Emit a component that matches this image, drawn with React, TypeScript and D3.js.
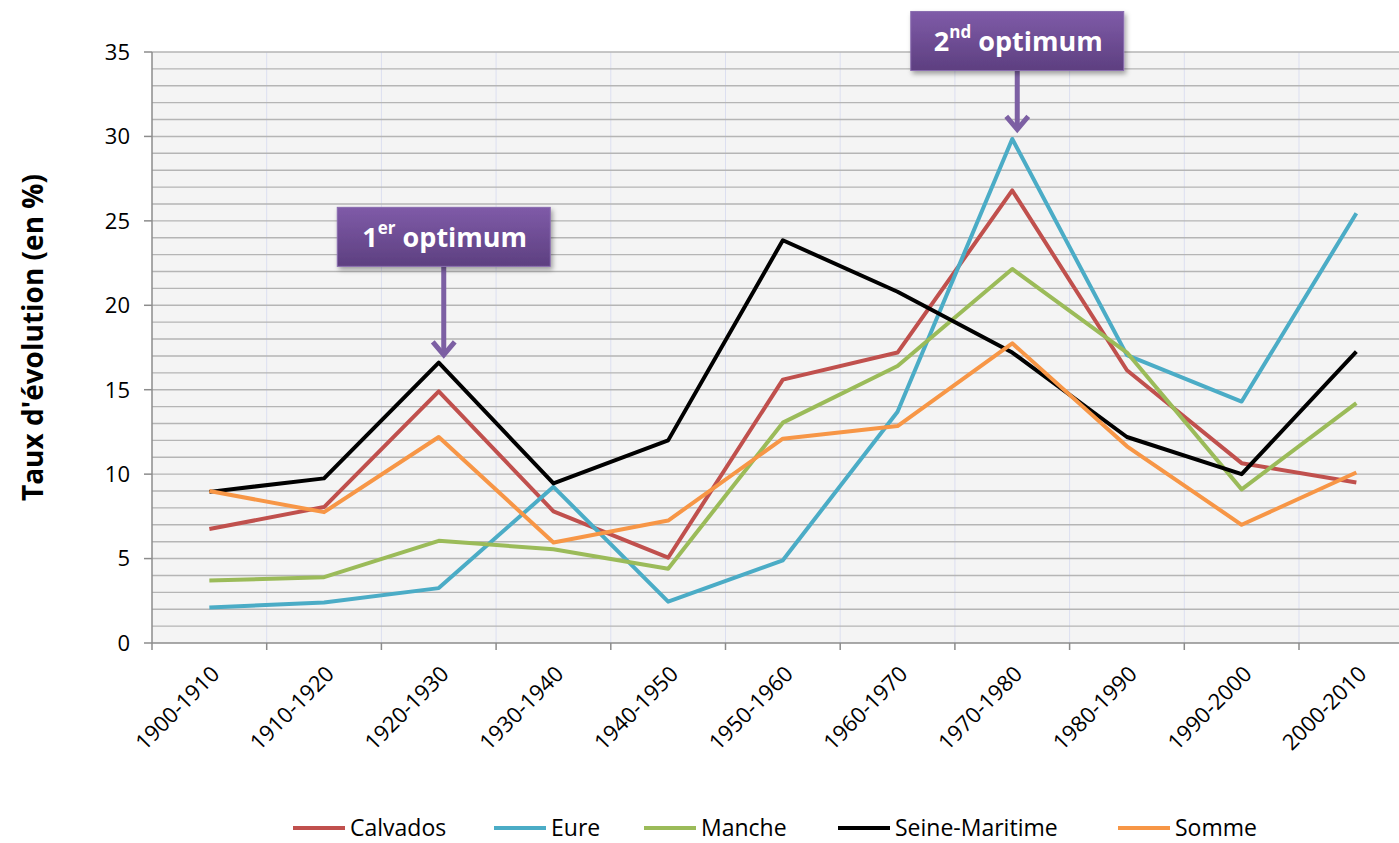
import React from 'react';
import * as d3 from 'd3';

const WIDTH = 1399;
const HEIGHT = 843;
// plot box
const LEFT = 152;
const TOP = 52;
const BOTTOM = 643;
const BAND = 114.7;

const categories = [
  '1900-1910', '1910-1920', '1920-1930', '1930-1940', '1940-1950', '1950-1960',
  '1960-1970', '1970-1980', '1980-1990', '1990-2000', '2000-2010',
];

const calvados = [6.75, 8.05, 14.9, 7.8, 5.05, 15.6, 17.2, 26.8, 16.15, 10.65, 9.5];
const eure = [2.1, 2.4, 3.25, 9.25, 2.45, 4.9, 13.7, 29.85, 17.05, 14.3, 25.45];
const manche = [3.7, 3.9, 6.05, 5.55, 4.4, 13.05, 16.4, 22.15, 17.2, 9.1, 14.2];
const seineMaritime = [8.95, 9.75, 16.6, 9.45, 12.0, 23.85, 20.8, 17.2, 12.2, 10.0, 17.25];
const somme = [9.0, 7.75, 12.2, 5.95, 7.25, 12.1, 12.85, 17.75, 11.65, 7.0, 10.1];

const yTicks = [0, 5, 10, 15, 20, 25, 30, 35];

const series = [
  { name: 'Calvados', values: calvados, color: '#c0504d' },
  { name: 'Eure', values: eure, color: '#4bacc6' },
  { name: 'Manche', values: manche, color: '#9bbb59' },
  { name: 'Seine-Maritime', values: seineMaritime, color: '#000000' },
  { name: 'Somme', values: somme, color: '#f79646' },
];

// annotation boxes: which category they point at, box top (in data units)
const annotations = [
  { num: '1', sup: 'er', category: '1920-1930', boxTop: 25.8, tip: 16.6 + 0.35 },
  { num: '2', sup: 'nd', category: '1970-1980', boxTop: 37.4, tip: 29.85 + 0.45 },
];

const FONT = '"Open Sans", "Noto Sans", sans-serif';

export default function App() {
  const x = d3.scaleBand().domain(categories).range([LEFT, LEFT + BAND * categories.length]).padding(0);
  const y = d3.scaleLinear().domain([0, 35]).range([BOTTOM, TOP]);
  const cx = (c: string) => (x(c) as number) + x.bandwidth() / 2;
  const right = LEFT + BAND * categories.length;

  const line = d3.line<number>()
    .x((_, i) => cx(categories[i]))
    .y((d) => y(d));

  const minor = d3.range(1, 36);

  const legendItems = [
    { x: 293 }, { x: 494 }, { x: 644 }, { x: 838 }, { x: 1118 },
  ];

  return (
    <svg width={WIDTH} height={HEIGHT} style={{ position: 'absolute', left: 0, top: 0, display: 'block', background: '#fff' }}
      xmlns="http://www.w3.org/2000/svg">
      <defs>
        <linearGradient id="boxGrad" x1="0" y1="0" x2="0" y2="1">
          <stop offset="0%" stopColor="#7f5ba8" />
          <stop offset="100%" stopColor="#5d3f80" />
        </linearGradient>
        <filter id="shadow" x="-20%" y="-20%" width="140%" height="160%">
          <feDropShadow dx="2" dy="3" stdDeviation="2.5" floodColor="#000" floodOpacity="0.35" />
        </filter>
      </defs>

      {/* plot area */}
      <rect x={LEFT} y={TOP} width={right - LEFT} height={BOTTOM - TOP} fill="#f4f4f4" />

      {/* vertical grid */}
      {categories.map((c, i) => i > 0 && (
        <line key={`vg-${c}`} x1={x(c)} x2={x(c)} y1={TOP} y2={BOTTOM} stroke="#dcdff0" strokeWidth={1} />
      ))}

      {/* horizontal grid every unit */}
      {minor.map((v) => (
        <line key={`hg-${v}`} x1={LEFT} x2={right} y1={y(v)} y2={y(v)} stroke="#b5b5b5" strokeWidth={1.4} />
      ))}

      {/* axes */}
      <line x1={LEFT} x2={LEFT} y1={TOP} y2={BOTTOM} stroke="#8c8c8c" strokeWidth={1.5} />
      <line x1={LEFT} x2={right} y1={BOTTOM} y2={BOTTOM} stroke="#8c8c8c" strokeWidth={1.5} />
      {yTicks.map((t) => (
        <g key={`yt-${t}`}>
          <line x1={LEFT - 8} x2={LEFT} y1={y(t)} y2={y(t)} stroke="#8c8c8c" strokeWidth={1.5} />
          <text x={LEFT - 22} y={y(t)} dy="0.36em" textAnchor="end" fontFamily={FONT} fontSize={22} fill="#000">{t}</text>
        </g>
      ))}
      {categories.map((c) => (
        <line key={`xt-${c}`} x1={x(c)} x2={x(c)} y1={BOTTOM} y2={BOTTOM + 7} stroke="#8c8c8c" strokeWidth={1.5} />
      ))}
      {categories.map((c) => (
        <text key={`xl-${c}`} transform={`translate(${cx(c) + 6},${BOTTOM + 27}) rotate(-45)`}
          textAnchor="end" dy="0.35em" fontFamily={FONT} fontSize={22} fill="#000">{c}</text>
      ))}

      {/* y title */}
      <text transform={`translate(33,${(TOP + BOTTOM) / 2 - 10}) rotate(-90)`} textAnchor="middle" dy="0.35em"
        fontFamily={FONT} fontWeight="bold" fontSize={28} fill="#000">Taux d'évolution (en %)</text>

      {/* series */}
      {series.map((s) => (
        <path key={s.name} d={line(s.values) || ''} fill="none" stroke={s.color} strokeWidth={4}
          strokeLinejoin="round" strokeLinecap="butt" />
      ))}

      {/* annotations */}
      {annotations.map((a) => {
        const ax = cx(a.category) + 5;
        const top = y(a.boxTop);
        const bw = 213;
        const bh = 59;
        const tipY = y(a.tip);
        return (
          <g key={a.num}>
            <line x1={ax} x2={ax} y1={top + bh} y2={tipY - 2} stroke="#7c5fa3" strokeWidth={5} />
            <path d={`M${ax - 11},${tipY - 15} L${ax},${tipY - 2} L${ax + 11},${tipY - 15}`} fill="none"
              stroke="#7c5fa3" strokeWidth={5} strokeLinejoin="miter" />
            <rect x={ax - bw / 2} y={top} width={bw} height={bh} fill="url(#boxGrad)" stroke="#8a6db0" strokeWidth={1}
              filter="url(#shadow)" />
            <text x={ax + 1} y={top + bh / 2} dy="0.36em" textAnchor="middle" fontFamily={FONT} fontWeight="bold"
              fontSize={27} fill="#fff">
              {a.num}<tspan fontSize={17} dy="-0.75em">{a.sup}</tspan><tspan dy="0.47em" fontSize={27}> optimum</tspan>
            </text>
          </g>
        );
      })}

      {/* legend */}
      {series.map((s, i) => (
        <g key={`lg-${s.name}`} transform={`translate(${legendItems[i].x},828)`}>
          <line x1={0} x2={52} y1={0} y2={0} stroke={s.color} strokeWidth={4} />
          <text x={57} y={0} dy="0.35em" fontFamily={FONT} fontSize={23} fill="#000">{s.name}</text>
        </g>
      ))}
    </svg>
  );
}
